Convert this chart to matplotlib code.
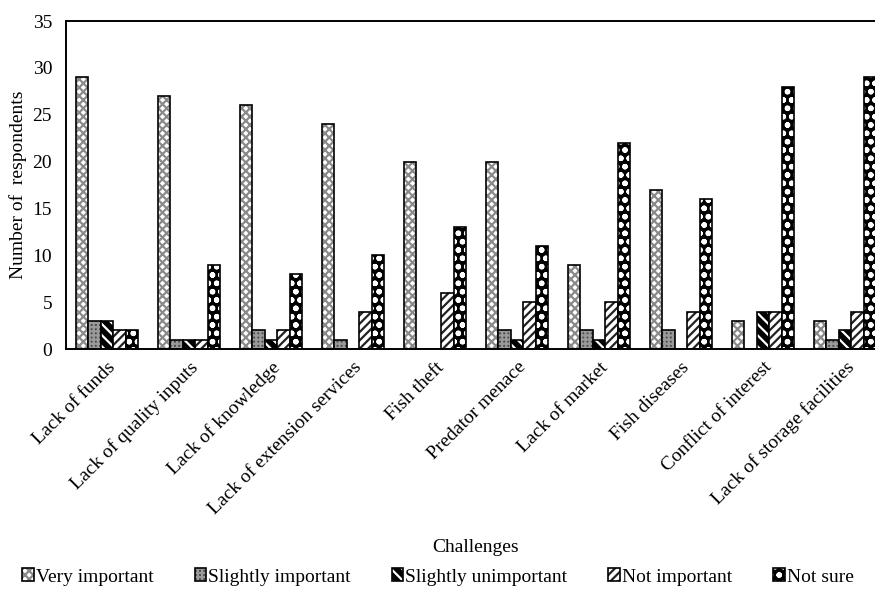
import matplotlib
matplotlib.use("Agg")
import matplotlib.pyplot as plt
import numpy as np
from matplotlib.patches import Patch
from matplotlib.legend_handler import HandlerTuple

plt.rcParams['font.family'] = ['Liberation Serif', 'DejaVu Serif']
plt.rcParams['hatch.linewidth'] = 1.6

challenges = ["Lack of funds", "Lack of quality inputs", "Lack of knowledge",
              "Lack of extension services", "Fish theft", "Predator menace",
              "Lack of market", "Fish diseases", "Conflict of interest",
              "Lack of storage facilities"]

very_important = [29, 27, 26, 24, 20, 20, 9, 17, 3, 3]
slightly_important = [3, 1, 2, 1, 0, 2, 2, 2, 0, 1]
slightly_unimportant = [3, 1, 1, 0, 0, 1, 1, 0, 4, 2]
not_important = [2, 1, 2, 4, 6, 5, 5, 4, 4, 4]
not_sure = [2, 9, 8, 10, 13, 11, 22, 16, 28, 29]

series_names = ["Very important", "Slightly important", "Slightly unimportant",
                "Not important", "Not sure"]
series_values = [very_important, slightly_important, slightly_unimportant,
                 not_important, not_sure]

# face colour, hatch colour, hatch pattern for each series
styles = [
    ("white", "#8a8a8a", "xxxx"),
    ("#4a4a4a", "#9a9a9a", "++++"),
    ("black", "white", "\\\\\\"),
    ("white", "#222222", "////"),
    ("black", "white", "oo"),
]

FS = 14

fig = plt.figure(figsize=(8.75, 5.98), dpi=100)
ax = fig.add_axes([66 / 875, 1 - 349 / 598, 820 / 875, 328 / 598])

x = np.arange(len(challenges))
width = 0.152
handles = []
for i, (name, vals, (fc, hc, hatch)) in enumerate(zip(series_names, series_values, styles)):
    pos = x - 2 * width + i * width
    ax.bar(pos, vals, width, color=fc, edgecolor="none", linewidth=0)
    ax.bar(pos, vals, width, facecolor="none", edgecolor=hc, hatch=hatch, linewidth=0)
    ax.bar(pos, vals, width, facecolor="none", edgecolor="black", linewidth=1.2)
    h_face = Patch(facecolor=fc, edgecolor="none")
    h_hatch = Patch(facecolor="none", edgecolor=hc, hatch=hatch, linewidth=0)
    h_edge = Patch(facecolor="none", edgecolor="black", linewidth=1.2)
    handles.append((h_face, h_hatch, h_edge))

ax.set_xlim(-0.5, len(challenges) - 0.5)
ax.set_ylim(0, 35)
ax.set_yticks(np.arange(0, 36, 5))
ax.tick_params(axis="both", length=0, labelsize=FS)
ax.tick_params(axis="y", pad=10)
ax.set_xticks(x)
ax.set_xticklabels(challenges, rotation=45, ha="right", rotation_mode="anchor")
ax.tick_params(axis="x", pad=7)
for s in ax.spines.values():
    s.set_linewidth(1.4)
ax.set_ylabel("Number of  respondents", fontsize=FS, labelpad=4)

fig.text(476 / 875, 1 - 548 / 598, "Challenges", ha="center", va="center", fontsize=FS)

fig.legend(handles, series_names, loc="center", bbox_to_anchor=(438 / 875, 1 - 577 / 598),
           ncol=5, frameon=False, fontsize=FS,
           handler_map={tuple: HandlerTuple(ndivide=1, pad=0)},
           handlelength=0.6, handleheight=0.6, handletextpad=0.1, columnspacing=2.1)

fig.savefig("out.png", dpi=100)
